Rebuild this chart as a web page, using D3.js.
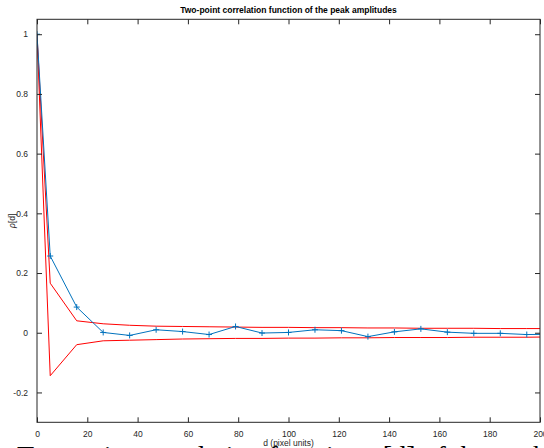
<!DOCTYPE html>
<html>
<head>
<meta charset="utf-8">
<script src="https://cdn.jsdelivr.net/npm/d3@7"></script>
<style>
  html, body { margin: 0; padding: 0; background: #fff; overflow: hidden; }
  svg { display: block; }
  text { font-family: "Liberation Sans", Arial, Helvetica, sans-serif; }
</style>
</head>
<body>
<script>
// Lag distances d (pixel units)
const distances = [0, 5.26, 15.79, 26.32, 36.84, 47.37, 57.89, 68.42, 78.95, 89.47,
  100.0, 110.53, 121.05, 131.58, 142.11, 152.63, 163.16, 173.68, 184.21, 194.74, 205.26];
// Measured two-point correlation rho[d]
const rho = [1.0, 0.257, 0.086, 0.001, -0.009, 0.010, 0.004, -0.006, 0.021, -0.001,
  0.001, 0.010, 0.007, -0.013, 0.003, 0.013, 0.002, -0.002, -0.002, -0.006, -0.005];
// Upper and lower confidence envelopes
const upperBound = [1.0, 0.166, 0.040, 0.030, 0.025, 0.022, 0.021, 0.020, 0.019, 0.018,
  0.018, 0.017, 0.017, 0.016, 0.016, 0.015, 0.015, 0.015, 0.014, 0.014, 0.014];
const lowerBound = [1.0, -0.144, -0.040, -0.027, -0.025, -0.023, -0.021, -0.020, -0.019, -0.019,
  -0.018, -0.018, -0.017, -0.017, -0.016, -0.016, -0.016, -0.015, -0.015, -0.015, -0.014];

const xTicks = [0, 20, 40, 60, 80, 100, 120, 140, 160, 180, 200];
const yTicks = [-0.2, 0, 0.2, 0.4, 0.6, 0.8, 1];
const yTickLabels = ["-0.2", "0", "0.2", "0.4", "0.6", "0.8", "1"];

const titleText = "Two-point correlation function of the peak amplitudes";
const xLabelText = "d (pixel units)";
const captionText = "Two-point correlation function \u03C1[d] of the peak amplitudes";

const W = 544, H = 448;
const plotL = 37, plotR = 540, plotT = 19.3, plotB = 422.3;
const axisColor = "#262626";

const svg = d3.select("body").append("svg").attr("width", W).attr("height", H);

const x = d3.scaleLinear().domain([0, 200]).range([plotL, plotR]);
const y = d3.scaleLinear().domain([-0.3, 1.05]).range([plotB, plotT]);

svg.append("clipPath").attr("id", "plotClip")
  .append("rect").attr("x", plotL).attr("y", plotT)
  .attr("width", plotR - plotL).attr("height", plotB - plotT);

const plot = svg.append("g").attr("clip-path", "url(#plotClip)");

const line = (vals) => d3.line()
  .x((d, i) => x(distances[i]))
  .y(d => y(d))(vals);

// confidence envelopes
[upperBound, lowerBound].forEach(b => {
  plot.append("path").attr("d", line(b))
    .attr("fill", "none").attr("stroke", "#ff0000").attr("stroke-width", 1);
});

// measured correlation with + markers
plot.append("path").attr("d", line(rho))
  .attr("fill", "none").attr("stroke", "#0072bd").attr("stroke-width", 1);
plot.selectAll("path.mk").data(rho).enter().append("path")
  .attr("class", "mk")
  .attr("transform", (d, i) => `translate(${x(distances[i])},${y(d)})`)
  .attr("d", "M-3,0H3M0,-3V3")
  .attr("stroke", "#0072bd").attr("stroke-width", 1).attr("fill", "none");

// axes with inward ticks
const tickLen = 5;
const styleAxis = g => {
  g.select(".domain").remove();
  g.selectAll("line").attr("stroke", axisColor);
  g.selectAll("text").attr("fill", axisColor).style("font-size", "8.5px")
    .style("font-family", "'Liberation Sans', Arial, sans-serif");
};

svg.append("g").attr("transform", `translate(0,${plotB})`)
  .call(d3.axisBottom(x).tickValues(xTicks).tickFormat(d3.format("d"))
    .tickSizeInner(-tickLen).tickSizeOuter(0).tickPadding(9))
  .call(styleAxis);
svg.append("g").attr("transform", `translate(0,${plotT})`)
  .call(d3.axisTop(x).tickValues(xTicks).tickFormat("")
    .tickSizeInner(-tickLen).tickSizeOuter(0))
  .call(styleAxis);
svg.append("g").attr("transform", `translate(${plotL},0)`)
  .call(d3.axisLeft(y).tickValues(yTicks)
    .tickFormat((d, i) => yTickLabels[i])
    .tickSizeInner(-tickLen).tickSizeOuter(0).tickPadding(9))
  .call(styleAxis);
svg.append("g").attr("transform", `translate(${plotR},0)`)
  .call(d3.axisRight(y).tickValues(yTicks).tickFormat("")
    .tickSizeInner(-tickLen).tickSizeOuter(0))
  .call(styleAxis);

// box
svg.append("rect").attr("x", plotL).attr("y", plotT)
  .attr("width", plotR - plotL).attr("height", plotB - plotT)
  .attr("fill", "none").attr("stroke", axisColor).attr("stroke-width", 1);

// title
svg.append("text").attr("x", (plotL + plotR) / 2).attr("y", 13)
  .attr("text-anchor", "middle").style("font-size", "8.5px").style("font-weight", "bold")
  .attr("fill", "#000").text(titleText);

// axis labels
svg.append("text").attr("x", (plotL + plotR) / 2).attr("y", 446)
  .attr("text-anchor", "middle").style("font-size", "8.5px").attr("fill", axisColor)
  .text(xLabelText);
const yl = svg.append("text")
  .attr("transform", `translate(15,${(plotT + plotB) / 2}) rotate(-90)`)
  .attr("text-anchor", "middle").style("font-size", "8.5px").attr("fill", axisColor);
yl.append("tspan").style("font-style", "italic").text("\u03C1");
yl.append("tspan").text("[d]");

// caption line below the figure
svg.append("text").attr("x", 17).attr("y", 465)
  .style("font-family", "'Liberation Serif', 'Times New Roman', serif")
  .style("font-size", "28px").attr("fill", "#000")
  .text(captionText);
</script>
</body>
</html>
